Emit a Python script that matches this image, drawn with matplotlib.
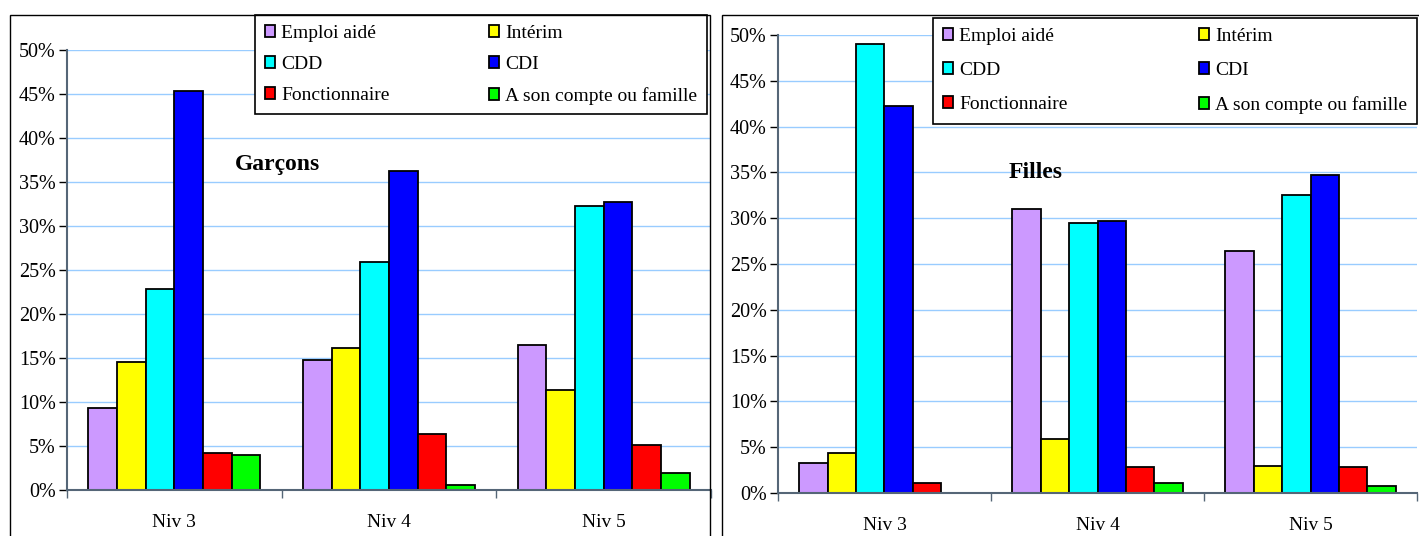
import matplotlib
matplotlib.use('Agg')
import matplotlib.pyplot as plt
from matplotlib.patches import Rectangle
from matplotlib.ticker import PercentFormatter
import numpy as np

plt.rcParams['font.family'] = ['Liberation Serif', 'DejaVu Serif']

# data (percent)
levels = ['Niv 3', 'Niv 4', 'Niv 5']
series = ['Emploi aidé', 'Intérim', 'CDD', 'CDI', 'Fonctionnaire',
          'A son compte ou famille']
colors = ['#CC99FF', '#FFFF00', '#00FFFF', '#0000FF', '#FF0000', '#00FF00']

garcons_aide = [9.3, 14.8, 16.5]
garcons_interim = [14.6, 16.1, 11.4]
garcons_cdd = [22.8, 25.9, 32.3]
garcons_cdi = [45.3, 36.2, 32.7]
garcons_fonct = [4.2, 6.4, 5.1]
garcons_compte = [4.0, 0.6, 1.9]

filles_aide = [3.3, 31.0, 26.4]
filles_interim = [4.4, 5.9, 3.0]
filles_cdd = [49.0, 29.5, 32.5]
filles_cdi = [42.2, 29.7, 34.7]
filles_fonct = [1.1, 2.8, 2.8]
filles_compte = [0.0, 1.1, 0.75]

W, H = 1419, 536
fig = plt.figure(figsize=(W / 100, H / 100), dpi=100)


def fx(px):
    return px / W


def fy(py):
    return 1 - py / H


# outer frames of the two charts
for x0, x1 in [(10, 710), (722, 1430)]:
    fig.patches.append(Rectangle((fx(x0), fy(560)), fx(x1 - x0), (560 - 15) / H,
                                 transform=fig.transFigure, fill=False,
                                 edgecolor='black', lw=1.0, zorder=0))


def draw_panel(rect, data, title, title_xy, leg_box, spacing):
    ax = fig.add_axes(rect)
    x = np.arange(len(levels))
    bw = 0.8 / len(series)
    bars = []
    for i, (vals, c) in enumerate(zip(data, colors)):
        b = ax.bar(x + (i - 2.5) * bw, vals, bw, color=c, edgecolor='black',
                   lw=1.3, zorder=3)
        bars.append(b)
    ax.set_xlim(-0.5, 2.5)
    ax.set_ylim(0, 50)
    ax.set_yticks(np.arange(0, 51, 5))
    ax.yaxis.set_major_formatter(PercentFormatter(decimals=0))
    ax.grid(axis='y', color='#99CCFF', lw=1.0, zorder=0)
    ax.set_xticks(x)
    ax.set_xticklabels(levels)
    ax.set_xticks([-0.5, 0.5, 1.5, 2.5], minor=True)
    ax.tick_params(axis='x', which='major', length=0, pad=17, labelsize=14)
    ax.tick_params(axis='x', which='minor', length=6, width=1, color='#556677')
    ax.tick_params(axis='y', length=6, width=1, pad=2, labelsize=14.5, color='black')
    for s in ['top', 'right']:
        ax.spines[s].set_visible(False)
    for s in ['left', 'bottom']:
        ax.spines[s].set_color('#556677')
        ax.spines[s].set_linewidth(1.5)
        ax.spines[s].set_zorder(4)
    fig.text(title_xy[0], title_xy[1], title, fontsize=17, fontweight='bold',
             ha='center', va='center')
    # legend filled row by row like the original
    order = [0, 2, 4, 1, 3, 5]
    leg = ax.legend([bars[i] for i in order], [series[i] for i in order],
                    ncol=2, loc='upper left', bbox_to_anchor=leg_box,
                    bbox_transform=fig.transFigure, mode='expand',
                    fontsize=14, frameon=True, fancybox=False, framealpha=1,
                    edgecolor='black', handlelength=0.55, handleheight=0.55,
                    handletextpad=0.3, labelspacing=spacing, borderpad=0.5,
                    borderaxespad=0, columnspacing=1.0)
    leg.get_frame().set_linewidth(1.2)
    leg.set_zorder(5)
    return ax


draw_panel([fx(67), fy(490), fx(711 - 67), (490 - 50) / H],
           [garcons_aide, garcons_interim, garcons_cdd, garcons_cdi,
            garcons_fonct, garcons_compte],
           'Garçons', (fx(278), fy(165)),
           (fx(255), fy(113), fx(707 - 255), (113 - 15) / H), 0.72)

draw_panel([fx(778), fy(493), fx(1417 - 778), (493 - 35) / H],
           [filles_aide, filles_interim, filles_cdd, filles_cdi,
            filles_fonct, filles_compte],
           'Filles', (fx(1036), fy(173)),
           (fx(933), fy(121), fx(1417 - 933), (121 - 18) / H), 0.88)

fig.savefig('out.png', dpi=100)
